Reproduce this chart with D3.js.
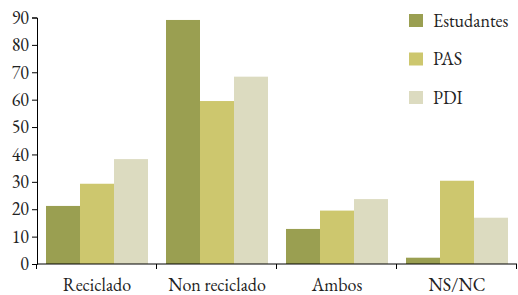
<!DOCTYPE html>
<html>
<head>
<meta charset="utf-8">
<script src="https://cdn.jsdelivr.net/npm/d3@7"></script>
<style>
  body { margin: 0; background: #fff; }
</style>
</head>
<body>
<div id="chart"></div>
<script>
const categories = ['Reciclado', 'Non reciclado', 'Ambos', 'NS/NC'];
const seriesNames = ['Estudantes', 'PAS', 'PDI'];
const estudantes = [21.2, 89.1, 12.8, 2.3];
const pas = [29.3, 59.5, 19.5, 30.4];
const pdi = [38.3, 68.4, 23.7, 16.9];
const yTicks = [0, 10, 20, 30, 40, 50, 60, 70, 80, 90];
const colors = ['#9a9f51', '#cdc76e', '#dcdbc0'];

const width = 518;
const height = 295;
const margin = {top: 17, right: 1, bottom: 31, left: 37};
const fontFamily = '"EB Garamond", "Liberation Serif", serif';

const values = [estudantes, pas, pdi];

const svg = d3.select('#chart')
  .append('svg')
  .attr('width', width)
  .attr('height', height)
  .style('font-family', fontFamily);

const x0 = d3.scaleBand()
  .domain(categories)
  .range([margin.left, width - margin.right])
  .paddingInner(0.15)
  .paddingOuter(0.075);

const x1 = d3.scaleBand()
  .domain(seriesNames)
  .range([0, x0.bandwidth()]);

const y = d3.scaleLinear()
  .domain([0, 90])
  .range([height - margin.bottom, margin.top + 0.5]);

// bars
const groups = svg.append('g')
  .selectAll('g')
  .data(categories)
  .enter()
  .append('g')
  .attr('transform', d => `translate(${x0(d)}, 0)`);

groups.selectAll('rect')
  .data((d, i) => seriesNames.map((s, j) => ({series: s, value: values[j][i], color: colors[j]})))
  .enter()
  .append('rect')
  .attr('x', d => x1(d.series))
  .attr('width', x1.bandwidth())
  .attr('y', d => y(d.value))
  .attr('height', d => y(0) - y(d.value))
  .attr('fill', d => d.color);

// y axis
const yAxis = svg.append('g')
  .attr('transform', `translate(${margin.left}, 0)`)
  .call(d3.axisLeft(y).tickValues(yTicks).tickSize(5).tickPadding(3));

yAxis.attr('font-family', null);
yAxis.selectAll('text')
  .style('font-family', fontFamily)
  .style('font-size', '18px')
  .style('font-variant-numeric', 'lining-nums')
  .attr('fill', '#222');

// x axis: ticks at band edges
const xLine = svg.append('g')
  .attr('transform', `translate(0, ${y(0)})`);

const xEdge = d3.scaleLinear()
  .domain([0, categories.length])
  .range([margin.left, width - margin.right]);

xLine.append('line')
  .attr('x1', xEdge(0))
  .attr('x2', xEdge(categories.length))
  .attr('stroke', '#000')
  .attr('stroke-width', 1);

xLine.selectAll('.edge')
  .data(d3.range(categories.length + 1))
  .enter()
  .append('line')
  .attr('class', 'edge')
  .attr('x1', d => Math.round(xEdge(d)) - 0.5)
  .attr('x2', d => Math.round(xEdge(d)) - 0.5)
  .attr('y1', 0)
  .attr('y2', 5)
  .attr('stroke', '#000');

xLine.selectAll('.cat')
  .data(categories)
  .enter()
  .append('text')
  .attr('class', 'cat')
  .attr('x', d => x0(d) + x0.bandwidth() / 2)
  .attr('y', 27)
  .attr('text-anchor', 'middle')
  .attr('fill', '#222')
  .style('font-family', fontFamily)
  .style('font-size', '18px')
  .text(d => d);

svg.selectAll('.domain').attr('stroke', '#000');
svg.selectAll('.tick line').attr('stroke', '#000');

// legend
const legend = svg.append('g')
  .attr('transform', `translate(409, 14)`);

const legendItems = legend.selectAll('g')
  .data(seriesNames)
  .enter()
  .append('g')
  .attr('transform', (d, i) => `translate(0, ${i * 38.5})`);

legendItems.append('rect')
  .attr('width', 14)
  .attr('height', 13)
  .attr('fill', (d, i) => colors[i]);

legendItems.append('text')
  .attr('x', 24)
  .attr('y', 12.5)
  .attr('fill', '#222')
  .style('font-family', fontFamily)
  .style('font-size', '18px')
  .text(d => d);
</script>
</body>
</html>
